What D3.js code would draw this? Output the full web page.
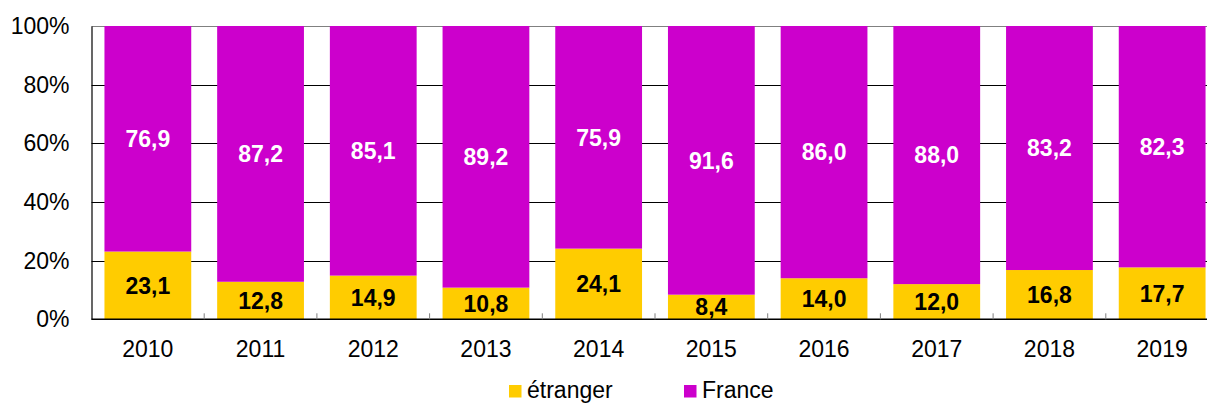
<!DOCTYPE html>
<html>
<head>
<meta charset="utf-8">
<script src="https://cdn.jsdelivr.net/npm/d3@7"></script>
<style>
  html, body { margin: 0; padding: 0; background: #fff; }
  svg { display: block; font-family: "Liberation Sans", Arial, sans-serif; }
</style>
</head>
<body>
<svg id="chart" width="1207" height="403"></svg>
<script>
// Share of visitors by origin, per year (percent)
const years = ["2010", "2011", "2012", "2013", "2014", "2015", "2016", "2017", "2018", "2019"];
const etranger = [23.1, 12.8, 14.9, 10.8, 24.1, 8.4, 14.0, 12.0, 16.8, 17.7];
const france = [76.9, 87.2, 85.1, 89.2, 75.9, 91.6, 86.0, 88.0, 83.2, 82.3];
const yTicks = [0, 20, 40, 60, 80, 100];
const seriesNames = ["étranger", "France"];
const seriesColors = ["#FFCC00", "#CC00CC"];
const labelColors = ["#000000", "#ffffff"];

const svg = d3.select("#chart");
const margin = { left: 91.5, right: -11.5, top: 26, bottom: 84 };
const W = 1207, H = 403;
const FS = 23;

const x = d3.scaleBand()
  .domain(years)
  .range([margin.left, W - margin.right])
  .paddingInner(0.23)
  .paddingOuter(0.115);

const y = d3.scaleLinear()
  .domain([0, 100])
  .range([H - margin.bottom + 0.3, margin.top]);

const fmt = v => v.toFixed(1).replace(".", ",");

// Horizontal gridlines
svg.append("g")
  .selectAll("line")
  .data(yTicks.filter(t => t > 0))
  .join("line")
  .attr("x1", margin.left)
  .attr("x2", W)
  .attr("y1", d => Math.round(y(d)) + 0.5)
  .attr("y2", d => Math.round(y(d)) + 0.5)
  .attr("stroke", d => d === 100 ? "#808080" : "#000")
  .attr("stroke-width", 1);

// Stacked data
const rows = years.map((yr, i) => ({ year: yr, "étranger": etranger[i], "France": france[i] }));
const stack = d3.stack().keys(seriesNames)(rows);

const layers = svg.append("g")
  .selectAll("g")
  .data(stack)
  .join("g")
  .attr("fill", (d, i) => seriesColors[i]);

layers.selectAll("rect")
  .data(d => d)
  .join("rect")
  .attr("x", d => x(d.data.year))
  .attr("width", x.bandwidth())
  .attr("y", d => y(d[1]))
  .attr("height", d => y(d[0]) - y(d[1]));

// Value labels inside segments
stack.forEach((layer, li) => {
  svg.append("g")
    .selectAll("text")
    .data(layer)
    .join("text")
    .attr("x", d => x(d.data.year) + x.bandwidth() / 2)
    .attr("y", d => y((d[0] + d[1]) / 2))
    .attr("dy", "0.36em")
    .attr("text-anchor", "middle")
    .attr("font-size", FS)
    .attr("font-weight", "bold")
    .attr("fill", labelColors[li])
    .text(d => fmt(d[1] - d[0]));
});

// Y axis
const yAxis = svg.append("g")
  .attr("transform", `translate(${margin.left},0)`)
  .call(d3.axisLeft(y).tickValues(yTicks).tickFormat(d => d + "%").tickSize(0).tickPadding(22));
yAxis.select(".domain").attr("stroke", "#000").attr("stroke-width", 1.2);
yAxis.selectAll("text").attr("font-size", FS).attr("fill", "#000")
  .attr("font-family", "'Liberation Sans', Arial, sans-serif");

// X axis baseline with small tick marks between categories
const baseY = y(0);
svg.append("line")
  .attr("x1", margin.left).attr("x2", W)
  .attr("y1", baseY).attr("y2", baseY)
  .attr("stroke", "#000").attr("stroke-width", 1.5);

const step = x.step();
svg.append("g")
  .selectAll("line")
  .data(years.slice(1))
  .join("line")
  .attr("x1", d => x(d) - (step - x.bandwidth()) / 2)
  .attr("x2", d => x(d) - (step - x.bandwidth()) / 2)
  .attr("y1", baseY)
  .attr("y2", baseY - 6)
  .attr("stroke", "#808080")
  .attr("stroke-width", 1);

svg.append("g")
  .selectAll("text")
  .data(years)
  .join("text")
  .attr("x", d => x(d) + x.bandwidth() / 2)
  .attr("y", 357)
  .attr("text-anchor", "middle")
  .attr("font-size", FS)
  .attr("fill", "#000")
  .text(d => d);

// Legend
const legendX = [509, 684];
const legend = svg.append("g")
  .selectAll("g")
  .data(seriesNames)
  .join("g")
  .attr("transform", (d, i) => `translate(${legendX[i]},385)`);
legend.append("rect")
  .attr("width", 12.5).attr("height", 12.5)
  .attr("fill", (d, i) => seriesColors[i]);
legend.append("text")
  .attr("x", 18)
  .attr("y", 13)
  .attr("font-size", FS)
  .attr("fill", "#000")
  .text(d => d);
</script>
</body>
</html>
